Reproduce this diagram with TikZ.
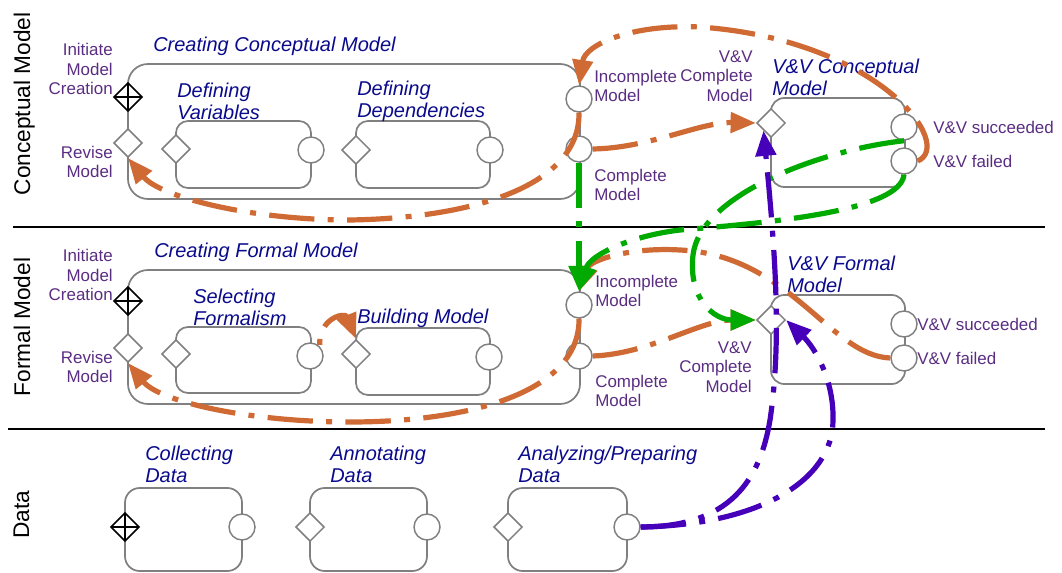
\documentclass[tikz,border=0pt]{standalone}
\usepackage{fontspec}
\setmainfont{Liberation Sans}
\usetikzlibrary{shapes.geometric,arrows.meta}

\definecolor{boxgray}{RGB}{128,128,128}
\definecolor{ttlblue}{RGB}{10,10,140}
\definecolor{lblpurple}{RGB}{90,45,130}
\definecolor{floworange}{RGB}{208,106,52}
\definecolor{flowgreen}{RGB}{0,170,0}
\definecolor{flowpurple}{RGB}{70,0,185}

\tikzset{
  box/.style={draw=boxgray, line width=1.3pt},
  gate/.style={diamond, draw=boxgray, fill=white, line width=1.1pt, minimum size=21.5pt, inner sep=0pt},
  startgate/.style={gate, draw=black, path picture={\draw [black, line width=0.9pt] (path picture bounding box.north) -- (path picture bounding box.south) (path picture bounding box.west) -- (path picture bounding box.east);}},
  endev/.style={circle, draw=boxgray, fill=white, line width=1.1pt, minimum size=19.5pt, inner sep=0pt},
  lbl/.style={text=lblpurple, inner sep=0pt, font=\fontsize{12.7}{14.6}\selectfont},
  ttl/.style={text=ttlblue, inner sep=0pt, font=\fontsize{15}{16.5}\selectfont\itshape},
  lane/.style={inner sep=0pt, rotate=90, anchor=base, font=\fontsize{17}{20}\selectfont},
  flow/.style={line width=3.9pt, dash pattern=on 34pt off 10pt on 4.5pt off 10pt, -{Triangle[length=19pt,width=15pt]}},
  orflow/.style={flow, draw=floworange},
  grflow/.style={flow, draw=flowgreen},
  puflow/.style={flow, draw=flowpurple}
}

\begin{document}
\begin{tikzpicture}[x=0.75pt,y=0.75pt,yscale=-1,xscale=1]
\useasboundingbox (0,0) rectangle (1062,573);

%Lanes
\draw [line width=1.5] (13,227) -- (1045,227);
\draw [line width=1.5] (8,429) -- (1045,429);
\node [lane] (laneconc) at (30,104) {Conceptual Model};
\node [lane] (laneform) at (30,327) {Formal Model};
\node [lane] (lanedata) at (29,515) {Data};

%Shape: Creating Conceptual Model
\draw [box, rounded corners=15] (128,64) rectangle (580,199);
\draw [box, rounded corners=9] (176,121) rectangle (311,188);
\draw [box, rounded corners=9] (356,121) rectangle (490,188);
%Shape: V&V Conceptual Model
\draw [box, rounded corners=10] (771,98) rectangle (905,187);

\node [startgate] (cstart) at (128,97) {};
\node [gate] (crev) at (128,143) {};
\node [endev] (cinc) at (579,99) {};
\node [endev] (ccomp) at (579,149) {};
\node [gate] (cvarin) at (176,149) {};
\node [endev] (cvarout) at (311,150) {};
\node [gate] (cdepin) at (356,150) {};
\node [endev] (cdepout) at (490,150) {};
\node [gate] (cvvin) at (771,123) {};
\node [endev] (cvvok) at (904,127) {};
\node [endev] (cvvfail) at (904,161) {};

% Text Node
\node [lbl, anchor=east, align=right] (cstartlbl) at (113,69) {Initiate\\Model\\Creation};
\node [lbl, anchor=east, align=right] (crevlbl) at (113,162) {Revise\\Model};
\node [lbl, anchor=west, align=left] (cinclbl) at (594,86) {Incomplete\\Model};
\node [lbl, anchor=west, align=left] (ccomplbl) at (594,185) {Complete\\Model};
\node [ttl, anchor=west] (cttl) at (153,46) {Creating Conceptual Model};
\node [ttl, anchor=west, align=left] (cvarttl) at (177,101) {Defining\\Variables};
\node [ttl, anchor=west, align=left] (cdepttl) at (357,101) {Defining\\Dependencies};
\node [lbl, anchor=east, align=right] (cvvinlbl) at (753,76) {V\&V\\Complete\\Model};
\node [ttl, anchor=west, align=left] (cvvttl) at (772,77) {V\&V Conceptual\\Model};
\node [lbl, anchor=west] (cvvoklbl) at (933,127) {V\&V succeeded};
\node [lbl, anchor=west] (cvvfaillbl) at (933,161) {V\&V failed};

%Shape: Creating Formal Model
\draw [box, rounded corners=15] (128,270) rectangle (580,404);
\draw [box, rounded corners=9] (176,327) rectangle (311,393);
\draw [box, rounded corners=9] (356,328) rectangle (490,395);
%Shape: V&V Formal Model
\draw [box, rounded corners=10] (771,295) rectangle (905,384);

\node [startgate] (fstart) at (128,301) {};
\node [gate] (frev) at (128,348) {};
\node [endev] (finc) at (579,305) {};
\node [endev] (fcomp) at (579,356) {};
\node [gate] (fselin) at (176,354) {};
\node [endev] (fselout) at (310,356) {};
\node [gate] (fbldin) at (356,354) {};
\node [endev] (fbldout) at (489,357) {};
\node [gate] (fvvin) at (771,320) {};
\node [endev] (fvvok) at (904,324) {};
\node [endev] (fvvfail) at (904,358) {};

% Text Node
\node [lbl, anchor=east, align=right] (fstartlbl) at (113,275) {Initiate\\Model\\Creation};
\node [lbl, anchor=east, align=right] (frevlbl) at (113,367) {Revise\\Model};
\node [lbl, anchor=west, align=left] (finclbl) at (595,291) {Incomplete\\Model};
\node [lbl, anchor=west, align=left] (fcomplbl) at (595,391) {Complete\\Model};
\node [ttl, anchor=west] (fttl) at (154,252) {Creating Formal Model};
\node [ttl, anchor=west, align=left] (fselttl) at (193,307) {Selecting\\Formalism};
\node [ttl, anchor=west] (fbldttl) at (357,318) {Building Model};
\node [lbl, anchor=east, align=right] (fvvinlbl) at (752,367) {V\&V\\Complete\\Model};
\node [ttl, anchor=west, align=left] (fvvttl) at (787,274) {V\&V Formal\\Model};
\node [lbl, anchor=west] (fvvoklbl) at (917,324) {V\&V succeeded};
\node [lbl, anchor=west] (fvvfaillbl) at (917,358) {V\&V failed};

%Shape: Data tasks
\draw [box, rounded corners=11] (125,488) rectangle (242,571);
\draw [box, rounded corners=11] (310,488) rectangle (427,571);
\draw [box, rounded corners=11] (508,488) rectangle (627,571);

\node [startgate] (dcolin) at (125,527) {};
\node [endev] (dcolout) at (242,527) {};
\node [gate] (dannin) at (310,527) {};
\node [endev] (dannout) at (427,527) {};
\node [gate] (danain) at (508,527) {};
\node [endev] (danaout) at (627,527) {};

% Text Node
\node [ttl, anchor=west, align=left] (dcolttl) at (145,464) {Collecting\\Data};
\node [ttl, anchor=west, align=left] (dannttl) at (330,464) {Annotating\\Data};
\node [ttl, anchor=west, align=left] (danattl) at (518,464) {Analyzing/Preparing\\Data};

%Flows: orange
\draw [orflow] (cinc.south) .. controls (580,185) and (475,218) .. (350,220) .. controls (250,220) and (160,197) .. (crev.south);
\draw [orflow] (cvvfail.east) .. controls (955,145) and (880,40) .. (700,27) .. controls (630,24) and (585,45) .. (cinc.north);
\draw [orflow] (ccomp.east) .. controls (650,148) and (700,122) .. (cvvin.west);
\draw [orflow] (finc.south) .. controls (580,390) and (475,422) .. (350,422) .. controls (250,422) and (160,402) .. (frev.south);
\draw [orflow] (fcomp.east) .. controls (650,354) and (700,320) .. (fvvin.west);
\draw [orflow] (fvvfail.west) .. controls (830,356) and (790,255) .. (680,250) .. controls (630,247) and (590,260) .. (finc.north);
\draw [orflow, dash phase=43pt] (fselout.north east) .. controls (318,318) and (345,312) .. (fbldin.north);

%Flows: green
\draw [grflow] (ccomp.south) -- (finc.north);
\draw [grflow] (cvvok.south) .. controls (820,150) and (700,195) .. (693,255) .. controls (688,300) and (715,320) .. (fvvin.west);
\draw [grflow] (cvvfail.south) .. controls (900,210) and (780,222) .. (680,230) .. controls (630,236) and (590,255) .. (finc.north);

%Flows: purple
\draw [puflow] (danaout.east) .. controls (730,527) and (760,480) .. (770,420) .. controls (782,340) and (775,250) .. (cvvin.south west);
\draw [puflow] (danaout.east) .. controls (760,525) and (833,480) .. (833,420) .. controls (834,380) and (815,348) .. (fvvin.east);

\end{tikzpicture}
\end{document}
